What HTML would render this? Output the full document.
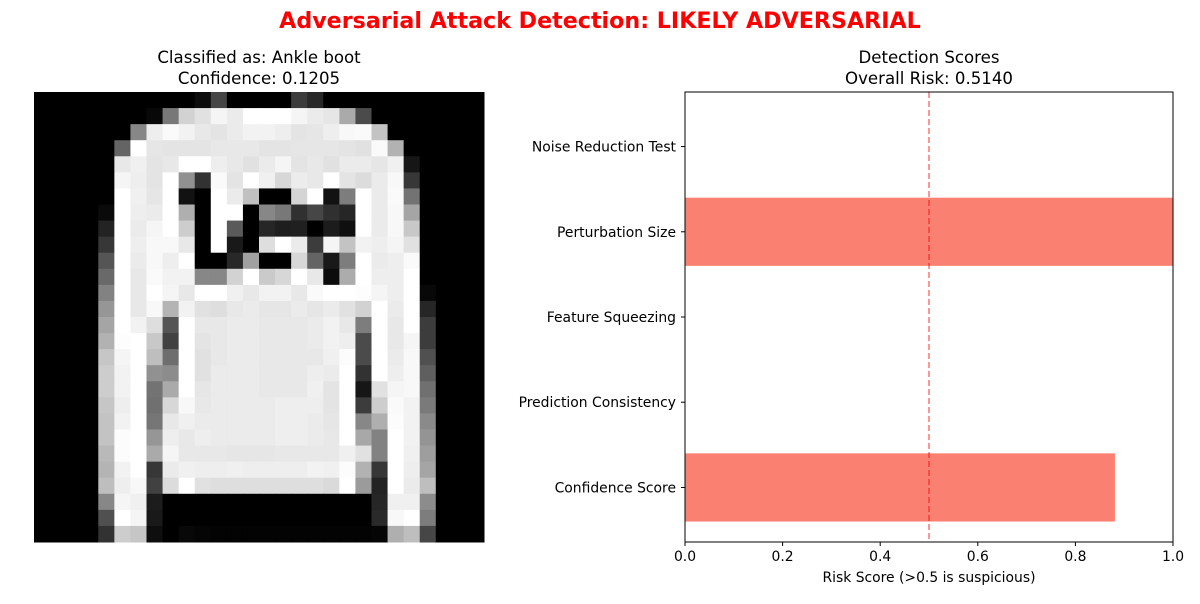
<!DOCTYPE html>
<html><head><meta charset="utf-8"><style>
body{margin:0;background:#fff;font-family:"DejaVu Sans","Liberation Sans",sans-serif}
svg text{font-family:"DejaVu Sans","Liberation Sans",sans-serif}
</style></head><body>
<svg id="fig" width="1200" height="600" xmlns="http://www.w3.org/2000/svg">
<rect width="1200" height="600" fill="#fff"/>
<text x="600" y="28" text-anchor="middle" font-size="22.2" font-weight="bold" fill="#ff0000">Adversarial Attack Detection: LIKELY ADVERSARIAL</text>
<text x="259" y="63" text-anchor="middle" font-size="16.6">Classified as: Ankle boot</text>
<text x="259" y="84" text-anchor="middle" font-size="16.6">Confidence: 0.1205</text>
<g id="img"></g>
<text x="929" y="63" text-anchor="middle" font-size="16.6">Detection Scores</text>
<text x="929" y="84" text-anchor="middle" font-size="16.6">Overall Risk: 0.5140</text>
<g id="bars"></g>
<rect x="685" y="92" width="488" height="450" fill="none" stroke="#000" stroke-width="1"/>
<text x="929" y="582" text-anchor="middle" font-size="13.9">Risk Score (&gt;0.5 is suspicious)</text>
</svg>
<script>
const categories=["Noise Reduction Test","Perturbation Size","Feature Squeezing","Prediction Consistency","Confidence Score"];
const scores=[0,1.0,0,0,0.881];
const threshold=0.5;
const xTicks=[0,0.2,0.4,0.6,0.8,1.0];
const xTickLabels=["0.0","0.2","0.4","0.6","0.8","1.0"];
const pixels=[
[0,0,0,0,0,0,0,0,0,0,12,70,0,0,0,0,60,40,0,0,0,0,0,0,0,0,0,0],
[0,0,0,0,0,0,0,8,120,210,225,245,235,255,255,255,245,235,230,170,75,0,0,0,0,0,0,0],
[0,0,0,0,0,0,135,238,250,242,232,228,235,242,242,238,228,230,238,248,250,195,0,0,0,0,0,0],
[0,0,0,0,0,100,255,230,228,228,228,232,232,232,228,228,230,230,230,228,225,250,178,0,0,0,0,0],
[0,0,0,0,0,232,240,228,232,255,255,238,232,225,235,245,228,232,225,235,235,230,240,22,0,0,0,0],
[0,0,0,0,0,245,238,228,255,145,50,250,228,255,240,215,236,232,255,228,220,235,248,55,0,0,0,0],
[0,0,0,0,0,255,240,230,255,18,0,255,235,192,0,0,212,255,18,125,255,235,250,115,0,0,0,0],
[0,0,0,0,10,255,238,235,255,175,0,255,255,0,135,120,48,70,48,38,255,235,248,165,0,0,0,0],
[0,0,0,0,35,255,235,245,255,205,0,255,90,0,38,30,32,0,28,15,255,235,248,200,0,0,0,0],
[0,0,0,0,55,255,238,248,248,232,0,255,25,0,222,255,235,60,245,195,242,238,245,225,0,0,0,0],
[0,0,0,0,85,255,235,248,238,255,0,0,40,160,0,0,215,100,25,125,255,235,238,250,0,0,0,0],
[0,0,0,0,105,255,232,250,242,242,135,135,210,255,202,215,255,232,12,172,255,238,238,255,0,0,0,0],
[0,0,0,0,130,255,232,255,245,232,255,255,240,232,242,242,232,250,255,255,253,245,238,255,8,0,0,0],
[0,0,0,0,150,255,232,248,180,242,225,222,232,235,230,230,235,230,235,225,210,255,235,255,38,0,0,0],
[0,0,0,0,165,255,242,222,85,255,232,232,235,235,232,232,232,235,242,232,125,255,232,255,60,0,0,0],
[0,0,0,0,178,253,255,200,65,255,228,232,235,235,232,232,232,235,242,238,75,255,232,245,60,0,0,0],
[0,0,0,0,198,245,255,190,110,255,225,232,235,235,232,232,232,232,240,252,75,255,235,248,80,0,0,0],
[0,0,0,0,205,242,255,145,140,255,225,235,235,235,232,232,232,238,235,255,50,255,238,248,95,0,0,0],
[0,0,0,0,205,242,255,115,170,255,230,235,235,235,232,232,232,240,228,255,22,225,245,248,112,0,0,0],
[0,0,0,0,198,238,255,112,215,248,232,235,235,235,235,238,238,238,228,255,60,205,250,242,122,0,0,0],
[0,0,0,0,195,242,255,118,232,240,235,235,235,235,235,238,238,235,230,255,135,175,252,242,138,0,0,0],
[0,0,0,0,195,252,255,150,238,232,238,235,235,235,235,238,238,235,232,255,168,130,255,242,148,0,0,0],
[0,0,0,0,185,252,255,170,245,232,232,232,230,230,230,232,232,232,232,240,225,130,255,240,158,0,0,0],
[0,0,0,0,180,242,255,55,235,240,238,238,240,238,238,238,238,242,240,252,178,55,255,238,165,0,0,0],
[0,0,0,0,190,238,248,65,220,255,225,222,222,222,222,222,222,222,218,255,155,35,255,235,190,0,0,0],
[0,0,0,0,135,245,240,28,0,0,0,0,0,0,0,0,0,0,0,0,0,38,240,240,140,0,0,0],
[0,0,0,0,80,255,245,25,0,0,0,0,0,0,0,0,0,0,0,0,0,42,248,255,125,0,0,0],
[0,0,0,0,50,205,198,14,0,8,5,3,3,3,3,3,3,3,3,3,3,5,175,190,70,0,0,0]
];
const NS="http://www.w3.org/2000/svg";
function mk(tag,attrs,parent){const e=document.createElementNS(NS,tag);for(const k in attrs)e.setAttribute(k,attrs[k]);parent.appendChild(e);return e;}
const img=document.getElementById('img');
const imgX=34,imgY=92,imgS=450,n=pixels.length,cs=imgS/n;
pixels.forEach((row,r)=>row.forEach((v,c)=>{
  const e=mk('rect',{x:imgX+c*cs,y:imgY+r*cs,width:cs+0.5,height:cs+0.5,fill:`rgb(${v},${v},${v})`},img);
  
  
}));
const g=document.getElementById('bars');
const px0=685,pw=488,py0=92,ph=450;
const xs=v=>px0+v/1.0*pw;
const unit=ph/5.28;
const yc=i=>py0+ph/2+(i-(categories.length-1)/2)*unit;
categories.forEach((cat,i)=>{
  const b=mk('rect',{x:xs(0),y:yc(i)-0.4*unit,width:xs(scores[i])-xs(0),height:0.8*unit,fill:'#fa8072'},g);
  
  
  const t=mk('line',{x1:px0-4,x2:px0,y1:yc(i),y2:yc(i),stroke:'#000'},g);
  
  
  const l=mk('text',{x:px0-9,y:yc(i)+5,'text-anchor':'end','font-size':'13.9'},g);
  l.textContent=cat;
  
  
});
const th=mk('line',{x1:xs(threshold),x2:xs(threshold),y1:py0,y2:py0+ph,stroke:'#ff0000','stroke-opacity':'0.55','stroke-width':'1.5','stroke-dasharray':'6,3'},g);


xTicks.forEach((v,i)=>{
  const t=mk('line',{x1:xs(v),x2:xs(v),y1:py0+ph,y2:py0+ph+4,stroke:'#000'},g);
  
  
  const l=mk('text',{x:xs(v),y:py0+ph+19,'text-anchor':'middle','font-size':'13.9'},g);
  l.textContent=xTickLabels[i];
  
  
});
</script>
</body></html>
